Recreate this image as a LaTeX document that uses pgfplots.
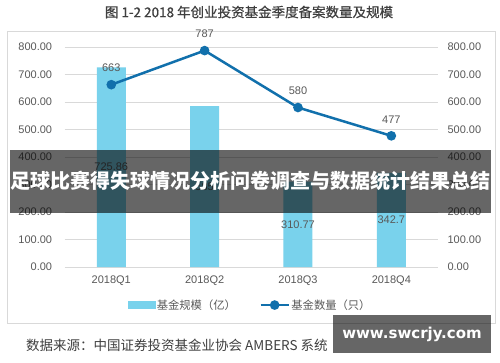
\documentclass[border=0pt]{standalone}
\usepackage{pgfplots}
\pgfplotsset{compat=1.18}
\usepackage{fontspec}
\setmainfont{Liberation Sans}
\newfontfamily\cjk{Noto Sans CJK SC}
\newfontfamily\cjkm[FakeBold=0.6]{Noto Sans CJK SC}
\newfontfamily\wmfont{DejaVu Sans}
\definecolor{barc}{HTML}{79D2EC}
\definecolor{linec}{HTML}{1170AC}
\definecolor{gridc}{HTML}{D9D9D9}
\definecolor{tickc}{HTML}{595959}
\definecolor{titlec}{HTML}{3F3F3F}
\newcommand{\lgf}{\cjk\fontsize{11.3}{13}\selectfont}
\begin{document}
\begin{tikzpicture}[x=1pt,y=1pt]
\fill[white] (0,0) rectangle (500,362);
\path[use as bounding box] (0,0) rectangle (500,362);
\draw[gridc, line width=0.8pt] (7,39) rectangle (495,331);
\node[text=titlec, font=\cjkm\fontsize{13.5}{16}\selectfont] at (249,350) {图 1-2 2018 年创业投资基金季度备案数量及规模};
\begin{axis}[
 at={(64.6pt,95pt)}, anchor=south west,
 scale only axis, width=373.4pt, height=220pt,
 xmin=-0.5, xmax=3.5, ymin=0, ymax=800,
 xtick={0,1,2,3}, xticklabels={2018Q1,2018Q2,2018Q3,2018Q4},
 ytick={0,100,...,800},
 yticklabel={\pgfmathprintnumber[fixed,fixed zerofill,precision=2]{\tick}},
 ymajorgrids, grid style={gridc, line width=0.8pt},
 axis line style={draw=none}, major tick length=0pt,
 tick label style={font=\fontsize{11}{13}\selectfont, text=tickc},
 yticklabel style={xshift=-9pt},
 xticklabel style={yshift=-5pt},
 /pgf/number format/assume math mode=true,
 clip=false,
]
\addplot[ybar, bar width=29pt, fill=barc, draw=none,
 point meta=explicit symbolic, nodes near coords,
 visualization depends on={rawy \as \rawy},
 every node near coord/.style={anchor=center, yshift={-0.1375*\rawy}, font=\fontsize{11}{13}\selectfont, text=tickc}]
 coordinates {(0,725.86) [725.86] (1,585) [585] (2,310.77) [310.77] (3,342.7) [342.7]};
\end{axis}
\begin{axis}[
 at={(64.6pt,95pt)}, anchor=south west,
 scale only axis, width=373.4pt, height=220pt,
 xmin=-0.5, xmax=3.5, ymin=0, ymax=800,
 axis x line=none, axis y line*=right,
 ytick={0,100,...,800},
 yticklabel={\pgfmathprintnumber[fixed,fixed zerofill,precision=2]{\tick}},
 axis line style={draw=none}, major tick length=0pt,
 tick label style={font=\fontsize{11}{13}\selectfont, text=tickc},
 yticklabel style={xshift=6pt},
 /pgf/number format/assume math mode=true,
 clip=false,
 legend columns=2,
 legend style={at={(axis description cs:0.4965,-0.173)}, anchor=center, draw=none, fill=none,
   text=tickc, inner xsep=0pt,
   nodes={inner xsep=1.5pt},
   /tikz/every even column/.append style={column sep=22pt}},
]
\addlegendimage{legend image code/.code={\fill[barc] (0pt,-3.5pt) rectangle (27pt,3.5pt);}}
\addlegendentry{\lgf 基金规模（亿）}
\addplot[color=linec, line width=2.5pt, mark=*, mark size=3.5pt, mark options={solid},
 point meta=explicit symbolic, nodes near coords,
 every node near coord/.style={anchor=south, yshift=8pt, font=\fontsize{11}{13}\selectfont, text=tickc},
 legend image code/.code={\draw[linec, line width=2.5pt] (0pt,0pt) -- (28pt,0pt); \fill[linec] (14pt,0pt) circle (3.5pt);}]
 coordinates {(0,663) [663] (1,787) [787] (2,580) [580] (3,477) [477]};
\addlegendentry{\lgf 基金数量（只）}
\end{axis}
\fill[black, opacity=0.6] (10,149) rectangle (491,212);
\node[text=white, font=\cjk\bfseries\fontsize{20}{24}\selectfont] at (250.5,181) {足球比赛得失球情况分析问卷调查与数据统计结果总结};
\node[anchor=west, text=titlec, font=\cjk\fontsize{13.5}{15}\selectfont, inner sep=0pt] at (26,17) {数据来源：中国证券投资基金业协会 AMBERS 系统};
\fill[black, opacity=0.6] (333,9) rectangle (491,47);
\node[text=white, font=\wmfont\bfseries\fontsize{15}{18}\selectfont] at (412,28) {www.swcrjy.com};
\end{tikzpicture}
\end{document}
